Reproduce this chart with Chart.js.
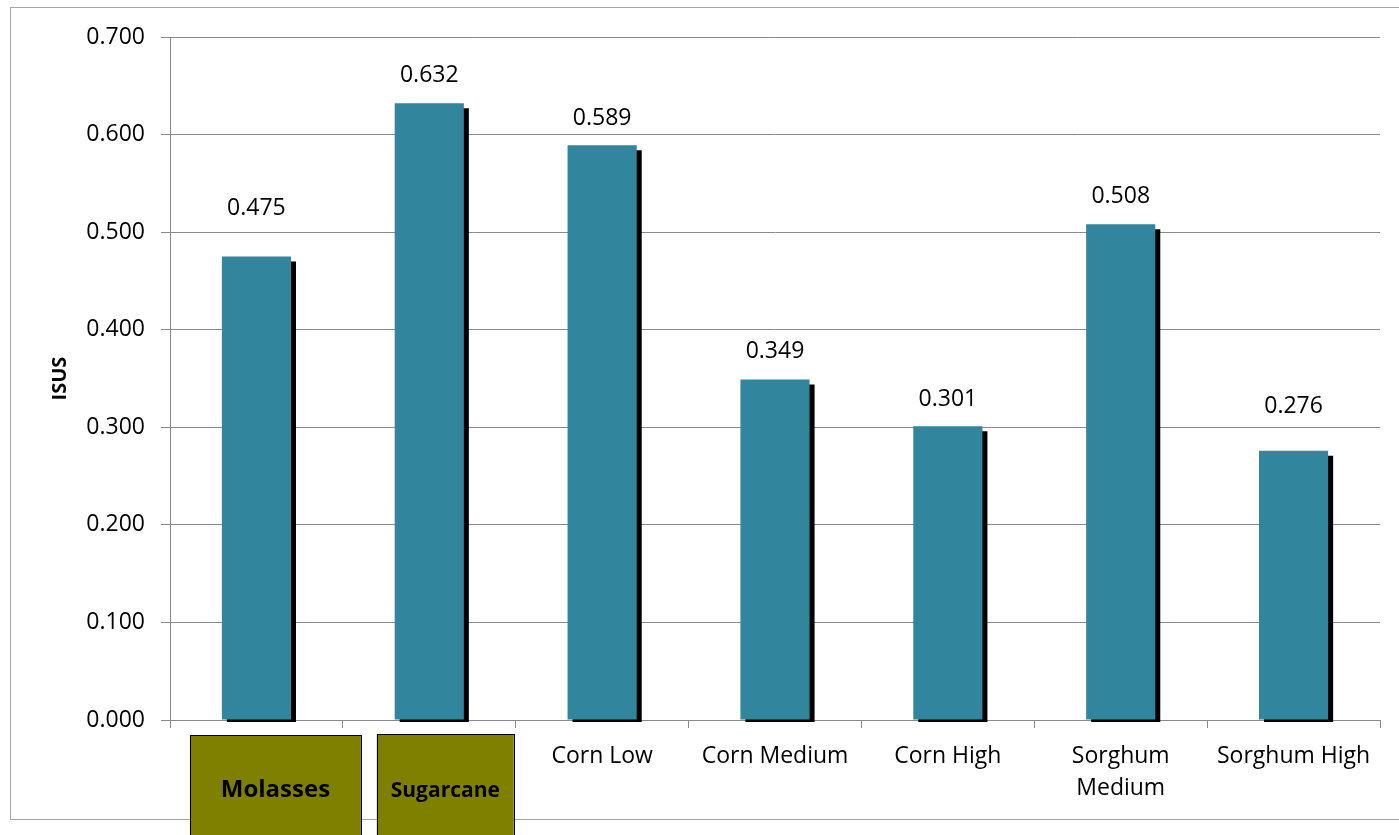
<!DOCTYPE html>
<html>
<head>
<meta charset="utf-8">
<script src="https://cdn.jsdelivr.net/npm/chart.js@4"></script>
<style>
  body { margin: 0; background: #fff; }
</style>
</head>
<body>
<canvas id="chart" width="1399" height="835"></canvas>
<script>
// data
var categories = ['Molasses', 'Sugarcane', 'Corn Low', 'Corn Medium', 'Corn High', ['Sorghum', 'Medium'], 'Sorghum High'];
var isusValues = [0.475, 0.632, 0.589, 0.349, 0.301, 0.508, 0.276];
var yTicks = [0, 0.1, 0.2, 0.3, 0.4, 0.5, 0.6, 0.7];
var boxedCategories = ['Molasses', 'Sugarcane'];

var FONT = "'Open Sans', sans-serif";
var GRID = '#8a8a8a';

// frame around the whole chart
var framePlugin = {
  id: 'frame',
  beforeDraw: function (chart) {
    var ctx = chart.ctx;
    ctx.save();
    ctx.fillStyle = '#fff';
    ctx.fillRect(0, 0, chart.width, chart.height);
    ctx.strokeStyle = '#a6a6a6';
    ctx.lineWidth = 1;
    ctx.strokeRect(10.5, 7.5, chart.width + 10, 812);
    ctx.restore();
  }
};

// black drop shadow on the bars
var shadowPlugin = {
  id: 'barShadow',
  beforeDatasetsDraw: function (chart) {
    var ctx = chart.ctx;
    ctx.save();
    ctx.shadowColor = '#000';
    ctx.shadowBlur = 0;
    ctx.shadowOffsetX = 5;
    ctx.shadowOffsetY = 5;
  },
  afterDatasetsDraw: function (chart) {
    chart.ctx.restore();
  }
};

// value labels above bars
var labelPlugin = {
  id: 'valueLabels',
  afterDatasetsDraw: function (chart, args, opts) {
    var ctx = chart.ctx;
    var meta = chart.getDatasetMeta(0);
    ctx.save();
    ctx.font = '23px ' + FONT;
    ctx.fillStyle = '#000';
    ctx.textAlign = 'center';
    ctx.textBaseline = 'middle';
    meta.data.forEach(function (bar, i) {
      var lift = opts.lift[i] || 28;
      ctx.fillText(isusValues[i].toFixed(3), bar.x, bar.y - lift);
    });
    ctx.restore();
  }
};

// olive boxes behind the first two category names
var boxPlugin = {
  id: 'catBoxes',
  afterDraw: function (chart, args, opts) {
    var ctx = chart.ctx;
    var x = chart.scales.x;
    ctx.save();
    boxedCategories.forEach(function (name, k) {
      var i = categories.indexOf(name);
      var c = x.getPixelForValue(i);
      var b = opts.boxes[k];
      ctx.fillStyle = '#808000';
      ctx.fillRect(c + b.dx - b.w / 2, b.top, b.w, 120);
      ctx.strokeStyle = '#000';
      ctx.lineWidth = 1;
      ctx.strokeRect(Math.round(c + b.dx - b.w / 2) + 0.5, b.top + 0.5, b.w, 120);
      ctx.fillStyle = '#000';
      ctx.font = 'bold ' + b.size + 'px ' + FONT;
      ctx.textAlign = 'center';
      ctx.textBaseline = 'alphabetic';
      ctx.fillText(name, c + b.dx, 797);
    });
    ctx.restore();
  }
};

var ctx = document.getElementById('chart').getContext('2d');
var chart = new Chart(ctx, {
  type: 'bar',
  data: {
    labels: categories,
    datasets: [{
      label: 'ISUS',
      data: isusValues,
      backgroundColor: '#31859c',
      borderWidth: 0,
      categoryPercentage: 1,
      barPercentage: 0.4,
      clip: { left: false, top: false, right: false, bottom: 2 }
    }]
  },
  plugins: [framePlugin, shadowPlugin, labelPlugin, boxPlugin],
  options: {
    responsive: false,
    animation: false,
    devicePixelRatio: 1,
    layout: { padding: { left: 0, top: 37, right: 19, bottom: 0 } },
    plugins: {
      legend: { display: false },
      tooltip: { enabled: false },
      valueLabels: { lift: [48, 28, 27, 28, 27, 28, 44] },
      catBoxes: {
        boxes: [
          { dx: 19, w: 171, top: 735, size: 24 },
          { dx: 16, w: 137, top: 734, size: 21 }
        ]
      }
    },
    scales: {
      x: {
        offset: true,
        grid: {
          offset: true,
          drawOnChartArea: false,
          drawTicks: true,
          tickLength: 8,
          color: GRID
        },
        border: { display: true, color: GRID },
        ticks: {
          color: '#000',
          padding: 12,
          maxRotation: 0,
          autoSkip: false,
          font: { family: FONT, size: 23, lineHeight: 1.4 },
          callback: function (v, i) {
            var name = categories[i];
            return boxedCategories.indexOf(name) >= 0 ? '' : name;
          }
        },
        afterFit: function (s) { s.height = 115; }
      },
      y: {
        min: 0,
        max: 0.7,
        afterBuildTicks: function (s) {
          s.ticks = yTicks.map(function (v) { return { value: v }; });
        },
        grid: { color: GRID, tickLength: 9 },
        border: { display: true, color: GRID },
        ticks: {
          color: '#000',
          padding: 16,
          font: { family: FONT, size: 23 },
          callback: function (v) { return Number(v).toFixed(3); }
        },
        title: {
          display: true,
          text: 'ISUS',
          color: '#000',
          font: { family: FONT, size: 20, weight: 'bold' },
          padding: { top: 48, bottom: 0 }
        },
        afterFit: function (s) { s.width = 170; }
      }
    }
  }
});
</script>
</body>
</html>
